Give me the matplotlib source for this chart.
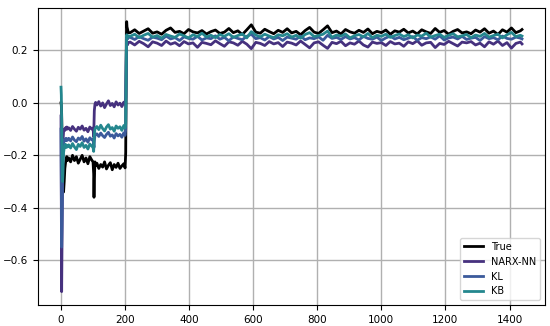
import matplotlib.pyplot as plt
import numpy as np

# sample index (dense around the steps, sparser on the plateaus)
x = np.concatenate([
    [0, 1, 2, 3, 4, 5, 6, 7, 8, 10, 12, 14, 16, 18, 20],
    np.arange(24, 97, 6), [100],
    [102, 103, 104, 106, 108],
    np.arange(112, 197, 6), [200],
    [202, 203, 204, 205, 206, 208, 210],
    np.arange(216, 1435, 14), [1439],
])

true_y = [
    0.0, -0.01, -0.04, -0.1, -0.18, -0.25, -0.3, -0.33, -0.34, -0.3, -0.25, -0.23, -0.215, -0.205, -0.22,
    -0.21, -0.225, -0.2, -0.22, -0.205, -0.23, -0.215, -0.2, -0.225, -0.21, -0.232, -0.205, -0.218, -0.225,
    -0.27, -0.36, -0.29, -0.225, -0.24,
    -0.23, -0.25, -0.235, -0.245, -0.225, -0.252, -0.238, -0.228, -0.255, -0.235, -0.246, -0.23, -0.25, -0.24, -0.232, -0.248,
    -0.19, 0.05, 0.24, 0.31, 0.29, 0.28, 0.268,
    0.268, 0.279, 0.265, 0.274, 0.283, 0.266, 0.271, 0.262, 0.277, 0.286,
    0.269, 0.273, 0.264, 0.28, 0.271, 0.267, 0.276, 0.263, 0.272, 0.278,
    0.265, 0.27, 0.284, 0.268, 0.275, 0.261, 0.279, 0.298, 0.27, 0.266,
    0.281, 0.272, 0.264, 0.277, 0.269, 0.283, 0.267, 0.273, 0.26, 0.276,
    0.288, 0.27, 0.265, 0.279, 0.294, 0.268, 0.274, 0.263, 0.28, 0.271,
    0.266, 0.277, 0.269, 0.282, 0.264, 0.273, 0.268, 0.278, 0.262, 0.275,
    0.27, 0.281, 0.267, 0.274, 0.263, 0.279, 0.271, 0.265, 0.284, 0.269,
    0.276, 0.262, 0.273, 0.28, 0.267, 0.271, 0.264, 0.278, 0.27, 0.283,
    0.266, 0.274, 0.261, 0.279, 0.27, 0.286, 0.268, 0.275, 0.28,
]

narx_y = [
    -0.05, -0.45, -0.72, -0.55, -0.38, -0.25, -0.17, -0.13, -0.11, -0.1, -0.105, -0.095, -0.1, -0.092, -0.1,
    -0.095, -0.105, -0.09, -0.1, -0.108, -0.093, -0.1, -0.088, -0.104, -0.097, -0.11, -0.092, -0.1, -0.096,
    -0.13, -0.08, -0.03, -0.005, 0.002,
    -0.008, 0.005, -0.012, 0.0, -0.018, -0.004, 0.008, -0.01, -0.002, -0.015, 0.004, -0.008, -0.001, -0.014, 0.003, -0.006,
    0.02, 0.12, 0.2, 0.235, 0.228, 0.222, 0.23,
    0.232, 0.221, 0.235, 0.226, 0.214, 0.233, 0.228, 0.219, 0.236, 0.224,
    0.23, 0.218, 0.234, 0.225, 0.229, 0.212, 0.231, 0.227, 0.222, 0.237,
    0.226, 0.216, 0.233, 0.229, 0.22, 0.235, 0.224, 0.207, 0.231, 0.227,
    0.219, 0.234, 0.225, 0.23, 0.215, 0.232, 0.228, 0.221, 0.236, 0.223,
    0.21, 0.229, 0.233, 0.22, 0.208, 0.231, 0.226, 0.235, 0.218, 0.229,
    0.224, 0.236, 0.221, 0.213, 0.232, 0.227, 0.23, 0.219, 0.234, 0.225,
    0.228, 0.216, 0.233, 0.226, 0.237, 0.22, 0.229, 0.231, 0.211, 0.227,
    0.223, 0.235, 0.226, 0.217, 0.232, 0.229, 0.234, 0.221, 0.228, 0.214,
    0.233, 0.224, 0.236, 0.219, 0.23, 0.209, 0.227, 0.232, 0.225,
]

kl_y = [
    -0.1, -0.35, -0.55, -0.48, -0.38, -0.28, -0.21, -0.17, -0.15, -0.142, -0.138, -0.145, -0.135, -0.14, -0.143,
    -0.135, -0.145, -0.13, -0.142, -0.148, -0.134, -0.14, -0.128, -0.146, -0.137, -0.15, -0.133, -0.141, -0.138,
    -0.16, -0.17, -0.145, -0.125, -0.12,
    -0.118, -0.128, -0.115, -0.125, -0.132, -0.12, -0.112, -0.127, -0.122, -0.134, -0.117, -0.126, -0.12, -0.131, -0.114, -0.124,
    -0.1, 0.05, 0.2, 0.25, 0.248, 0.244, 0.25,
    0.25, 0.242, 0.253, 0.245, 0.239, 0.251, 0.247, 0.241, 0.255, 0.244,
    0.249, 0.238, 0.252, 0.246, 0.243, 0.254, 0.24, 0.248, 0.245, 0.256,
    0.243, 0.25, 0.237, 0.252, 0.246, 0.241, 0.254, 0.262, 0.245, 0.249,
    0.24, 0.253, 0.244, 0.25, 0.238, 0.251, 0.247, 0.243, 0.255, 0.241,
    0.248, 0.245, 0.252, 0.239, 0.258, 0.246, 0.25, 0.242, 0.253, 0.244,
    0.249, 0.24, 0.254, 0.246, 0.243, 0.251, 0.238, 0.248, 0.255, 0.244,
    0.25, 0.241, 0.247, 0.253, 0.239, 0.249, 0.245, 0.252, 0.243, 0.256,
    0.24, 0.248, 0.251, 0.244, 0.254, 0.242, 0.247, 0.25, 0.238, 0.253,
    0.245, 0.249, 0.241, 0.255, 0.246, 0.243, 0.251, 0.247, 0.244,
]

kb_y = [
    0.06, 0.03, -0.05, -0.15, -0.25, -0.3, -0.27, -0.22, -0.19, -0.172, -0.165, -0.158, -0.17, -0.162, -0.168,
    -0.16, -0.172, -0.155, -0.168, -0.178, -0.158, -0.166, -0.152, -0.17, -0.162, -0.176, -0.157, -0.165, -0.17,
    -0.185, -0.15, -0.12, -0.1, -0.095,
    -0.09, -0.102, -0.085, -0.098, -0.107, -0.092, -0.083, -0.1, -0.094, -0.108, -0.088, -0.097, -0.091, -0.105, -0.086, -0.096,
    -0.08, 0.05, 0.2, 0.26, 0.255, 0.25, 0.256,
    0.254, 0.262, 0.249, 0.258, 0.265, 0.251, 0.257, 0.247, 0.261, 0.255,
    0.25, 0.263, 0.256, 0.248, 0.26, 0.253, 0.266, 0.252, 0.258, 0.249,
    0.261, 0.254, 0.264, 0.25, 0.257, 0.263, 0.248, 0.272, 0.259, 0.252,
    0.262, 0.255, 0.249, 0.26, 0.256, 0.264, 0.251, 0.258, 0.247, 0.261,
    0.268, 0.253, 0.257, 0.262, 0.274, 0.25, 0.259, 0.255, 0.263, 0.248,
    0.256, 0.261, 0.252, 0.265, 0.249, 0.258, 0.254, 0.262, 0.25, 0.257,
    0.263, 0.253, 0.26, 0.248, 0.259, 0.255, 0.266, 0.251, 0.257, 0.262,
    0.25, 0.258, 0.264, 0.252, 0.256, 0.261, 0.249, 0.259, 0.254, 0.265,
    0.251, 0.257, 0.262, 0.248, 0.26, 0.269, 0.253, 0.258, 0.255,
]

labels = ["True", "NARX-NN", "KL", "KB"]
colors = ["black", "#46317e", "#3b5a9b", "#24878e"]

fig = plt.figure(figsize=(5.5, 3.26), dpi=100)
ax = fig.add_axes([0.069, 0.064, 0.922, 0.911])

for y, lab, c in zip([true_y, narx_y, kl_y, kb_y], labels, colors):
    ax.plot(x, y, color=c, lw=2.0, label=lab)

ax.grid(True, color="#b0b0b0", lw=1.0)
ax.tick_params(labelsize=7.5)
ax.legend(loc="lower right", fontsize=7)

plt.savefig("out.png")
